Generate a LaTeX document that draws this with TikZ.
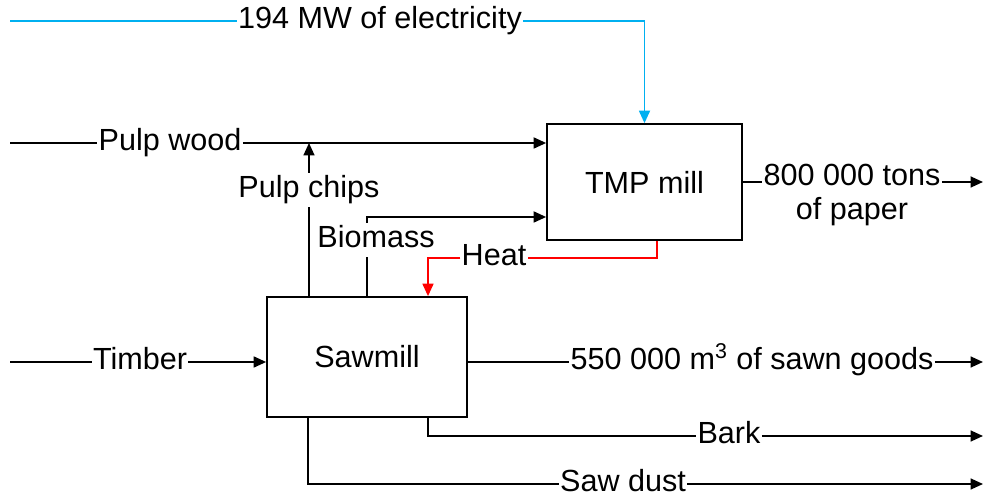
\documentclass[tikz,border=0pt]{standalone}
\usepackage{fontspec}
\setmainfont{Liberation Sans}
\usepackage{tikz}
\usetikzlibrary{
  arrows.meta,
  positioning,
  calc
}
\usepackage{xcolor}
\definecolor{elecblue}{RGB}{0,176,240}

\begin{document}
\begin{tikzpicture}[
    x=0.02cm, y=-0.02cm,
    font=\fontsize{17.4}{19}\selectfont,
    mill/.style={
      rectangle, draw, line width=1pt,
      minimum width=3.9cm, minimum height=2.32cm,
      text centered, align=center
    },
    lbl/.style={
      inner xsep=0.6pt, inner ysep=1.5pt,
      text height=12.6pt, text depth=3.8pt
    },
    flow/.style={line width=1pt},
    arr/.style={-{Triangle[length=0.25cm, width=0.22cm]}, line width=1pt},
    elecline/.style={elecblue},
    heatline/.style={red},
  ]
  \useasboundingbox (0,0) rectangle (985,496);

  %% ── Mills ─────────────────────────────────────────────────
  \node[mill] (tmp) at (644.5,182) {TMP mill};
  \node[mill, minimum width=4cm, minimum height=2.4cm] (saw) at (367,357) {Sawmill};

  %% ── Flow labels ───────────────────────────────────────────
  \node[lbl] (elec)   at (380,21)  {194 MW of electricity};
  \node[lbl] (pulp)   at (170,143) {Pulp wood};
  \node[lbl] (chips)  at (309,190) {Pulp chips};
  \node[lbl] (bio)    at (376,240) {Biomass};
  \node[lbl] (heat)   at (494,258) {Heat};
  \node[lbl] (timber) at (140,362) {Timber};
  \node[lbl] (sawn)   at (752,362) {550 000 m\textsuperscript{3} of sawn goods};
  \node[lbl] (bark)   at (729,436) {Bark};
  \node[lbl] (dust)   at (623,484) {Saw dust};
  \node[align=center, inner xsep=0.6pt, inner ysep=1.5pt] (paper) at (852,195) {800 000 tons\\of paper};

  %% ── Free ends ─────────────────────────────────────────────
  \coordinate (elecin)  at (10,21);
  \coordinate (pulpin)  at (10,143);
  \coordinate (timbin)  at (10,362);
  \coordinate (sawnout) at (983,362);
  \coordinate (barkout) at (983,436);
  \coordinate (dustout) at (983,484);
  \coordinate (bmturn)  at (367,217);

  %% ── Inputs to the TMP mill ────────────────────────────────
  \draw[flow, elecline] (elecin) -- (elec.west);
  \draw[arr, elecline]  (elec.east) -| (tmp.north);
  \draw[flow] (pulpin) -- (pulp.west);
  \draw[arr]  (pulp.east) -- (pulp.east -| tmp.west);
  \draw[flow] (chips.south |- saw.north) -- (chips.south);
  \draw[arr]  (chips.north) -- (chips.north |- pulp.east);
  \draw[flow] (bmturn |- saw.north) -- (bmturn |- bio.south);
  \draw[arr]  (bmturn |- bio.north) -- (bmturn) -- (bmturn -| tmp.west);

  %% ── Heat back to the sawmill ──────────────────────────────
  \draw[flow, heatline] ($(tmp.south)+(12.5,0)$) |- (heat.east);
  \draw[arr, heatline]  (heat.west) -| ($(saw.north)+(61,0)$);

  %% ── Sawmill in and out ────────────────────────────────────
  \draw[flow] (timbin) -- (timber.west);
  \draw[arr]  (timber.east) -- (timber.east -| saw.west);
  \draw[flow] (sawn.west -| saw.east) -- (sawn.west);
  \draw[arr]  (sawn.east) -- (sawnout);
  \draw[flow] ($(saw.south)+(61,0)$) |- (bark.west);
  \draw[arr]  (bark.east) -- (barkout);
  \draw[flow] ($(saw.south)+(-59,0)$) |- (dust.west);
  \draw[arr]  (dust.east) -- (dustout);

  %% ── Paper out ─────────────────────────────────────────────
  \draw[flow] (tmp.east) -- (tmp.east -| paper.west);
  \draw[arr]  (tmp.east -| paper.east) -- (tmp.east -| sawnout);

\end{tikzpicture}
\end{document}
